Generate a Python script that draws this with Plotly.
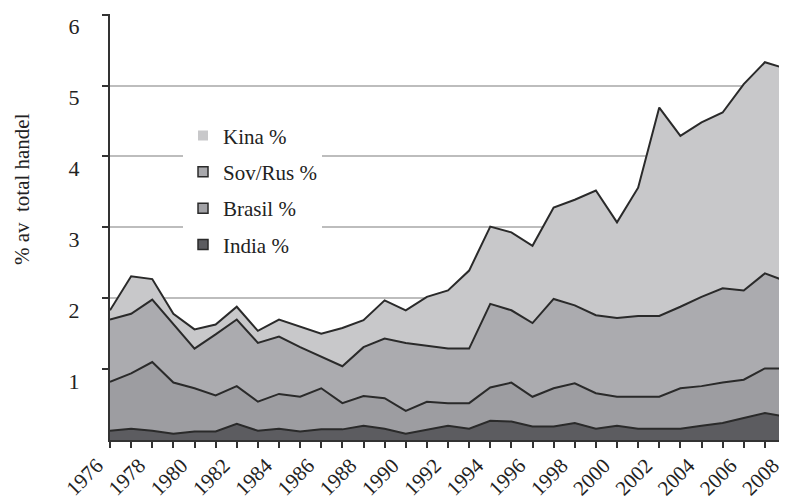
import plotly.graph_objects as go

years = list(range(1976, 2009))
india = [0.13,0.16,0.13,0.09,0.12,0.12,0.23,0.13,0.16,0.12,0.15,0.15,0.20,0.16,0.09,0.14,0.20,0.16,0.27,0.26,0.19,0.19,0.24,0.16,0.20,0.16,0.16,0.16,0.20,0.24,0.31,0.38,0.33]
brasil = [0.69,0.78,0.97,0.72,0.61,0.51,0.53,0.41,0.49,0.49,0.58,0.37,0.42,0.43,0.32,0.40,0.32,0.36,0.47,0.55,0.42,0.54,0.56,0.50,0.41,0.45,0.45,0.57,0.56,0.57,0.54,0.63,0.68]
sovrus = [0.88,0.84,0.88,0.83,0.56,0.86,0.94,0.83,0.81,0.70,0.45,0.52,0.69,0.84,0.96,0.79,0.77,0.77,1.18,1.02,1.04,1.26,1.10,1.10,1.11,1.14,1.14,1.15,1.26,1.33,1.26,1.34,1.23]
kina = [0.13,0.53,0.29,0.14,0.27,0.14,0.18,0.17,0.24,0.29,0.32,0.54,0.38,0.54,0.46,0.69,0.82,1.10,1.09,1.10,1.09,1.29,1.49,1.76,1.35,1.81,2.94,2.41,2.46,2.48,2.91,2.98,3.00]

names = ["India %", "Brasil %", "Sov/Rus %", "Kina %"]
series = [india, brasil, sovrus, kina]
fills = ["#5c5c60", "#9d9da1", "#ababaf", "#c8c8ca"]
legend_fill = ["#5c5c60", "#a2a2a6", "#a8a8ac", "#c8c8ca"]
line_col = "#2a2a2a"
FONT = "Liberation Serif"

fig = go.Figure()
for name, vals, fc in zip(names, series, fills):
    fig.add_trace(go.Scatter(
        x=years, y=vals, stackgroup="one", mode="lines",
        line=dict(color=line_col, width=2), fillcolor=fc,
        name=name, showlegend=False, hoverinfo="skip"))

# dark right edge of the stacked area
total_last = sum(s[-1] for s in series)
fig.add_trace(go.Scatter(x=[years[-1], years[-1]], y=[0, total_last], mode="lines",
                         line=dict(color=line_col, width=3), showlegend=False, hoverinfo="skip"))

# legend entries (squares), top to bottom: Kina, Sov/Rus, Brasil, India
for name, lf in reversed(list(zip(names, legend_fill))):
    border = dict(color=line_col, width=1.5) if name != "Kina %" else dict(color=lf, width=0)
    fig.add_trace(go.Scatter(
        x=[None], y=[None], mode="markers", name=name, legendgroup=name,
        marker=dict(symbol="square", size=10, color=lf, line=border)))

fig.update_layout(
    width=779, height=493,
    margin=dict(l=102, r=1, t=6, b=61),
    paper_bgcolor="white", plot_bgcolor="white",
    font=dict(family=FONT, color="#222222"),
    showlegend=True,
    legend=dict(
        x=0.108, y=0.762, xanchor="left", yanchor="top",
        bgcolor="white", borderwidth=0,
        traceorder="grouped", tracegroupgap=6,
        font=dict(family=FONT, size=21, color="#222222"),
    ),
    xaxis=dict(
        range=[1976, 2008], tick0=1976, dtick=2, tickangle=-45,
        showgrid=False, zeroline=False, automargin=False,
        showline=True, linecolor="#333333", linewidth=2,
        ticks="outside", ticklen=6, tickwidth=2, tickcolor="#333333",
        minor=dict(dtick=1, tick0=1976, ticks="outside", ticklen=6, tickwidth=2, tickcolor="#333333", showgrid=False),
        tickfont=dict(family=FONT, size=21, color="#222222"),
        ticklabelshift=-13, ticklabelstandoff=-3, ticklabeloverflow="allow",
    ),
    yaxis=dict(
        range=[0, 6.01], tickvals=[1, 2, 3, 4, 5, 6],
        showgrid=True, gridcolor="#bdbdbd", gridwidth=1.5,
        zeroline=False, automargin=False,
        showline=True, linecolor="#333333", linewidth=2,
        ticks="outside", ticklen=6, tickwidth=2, tickcolor="#333333",
        tickfont=dict(family=FONT, size=22, color="#222222"),
        ticklabelstandoff=18, ticklabelshift=12, ticklabeloverflow="allow",
    ),
    annotations=[dict(
        text="% av  total handel", textangle=-90, showarrow=False,
        xref="paper", yref="paper", x=-0.131, y=0.59,
        xanchor="center", yanchor="middle",
        font=dict(family=FONT, size=21, color="#222222"))],
    shapes=[dict(type="line", xref="paper", yref="paper", x0=1, x1=1, y0=0, y1=1,
                 line=dict(color="#bdbdbd", width=1.5), layer="below")],
)

fig.write_html("out.html")
